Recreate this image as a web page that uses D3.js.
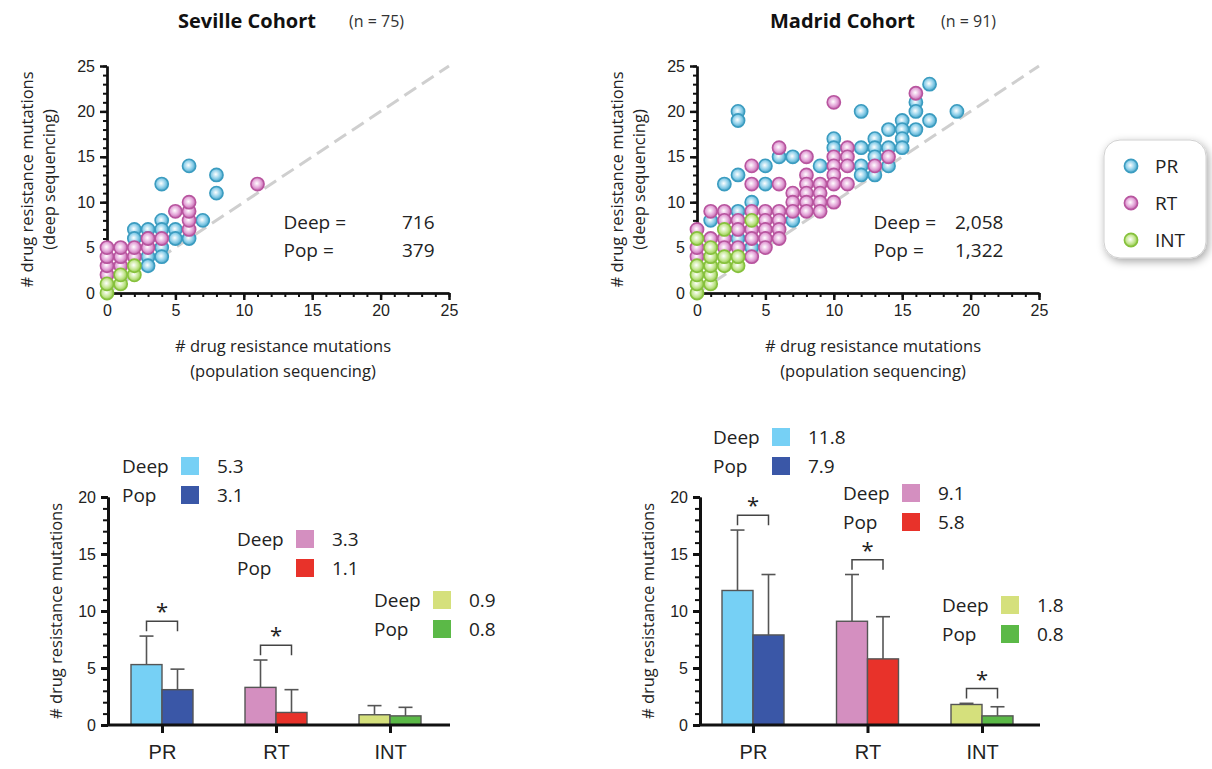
<!DOCTYPE html>
<html><head><meta charset="utf-8">
<script src="https://cdn.jsdelivr.net/npm/d3@7"></script>
<style>body{margin:0;background:#fff;} svg{display:block;font-family:"Open Sans",sans-serif;}</style>
</head><body><svg id="c" width="1212" height="769"></svg>
<script>
// ---------- DATA ----------
const cohorts = ["Seville Cohort", "Madrid Cohort"];
const cohortN = ["(n = 75)", "(n = 91)"];
const groups = ["PR", "RT", "INT"];
const scatterTicks = [0, 5, 10, 15, 20, 25];
const barTicks = [0, 5, 10, 15, 20];

// scatter points: [population, deep]
const sevPR = [[2,7],[2,6],[3,7],[3,6],[3,4],[3,3],[4,12],[4,8],[4,7],[4,5],[4,4],[5,7],[5,6],[6,14],[6,6],[7,8],[8,13],[8,11]];
const sevRT = [[0,2],[0,3],[0,4],[0,5],[1,3],[1,4],[1,5],[2,4],[2,5],[3,5],[3,6],[4,6],[5,9],[6,7],[6,8],[6,9],[6,10],[11,12]];
const sevINT = [[0,0],[0,1],[1,1],[1,2],[2,2],[2,3]];

const madPR = [[1,8],[2,12],[3,20],[3,19],[3,13],[3,9],[3,6],[4,10],[4,5],[5,14],[5,12],[6,15],[7,15],[7,8],[9,14],[10,17],[10,16],[12,20],[12,16],[12,14],[12,13],[13,17],[13,16],[13,15],[13,13],[14,18],[14,16],[14,14],[15,19],[15,18],[15,17],[15,16],[16,21],[16,20],[16,18],[17,23],[17,19],[19,20]];
const madRT = [[0,4],[0,5],[0,7],[1,9],[1,6],[2,9],[2,8],[2,6],[2,5],[3,8],[3,7],[3,5],[4,14],[4,12],[4,9],[4,7],[4,6],[4,4],[5,9],[5,8],[5,7],[5,6],[5,5],[6,16],[6,12],[6,9],[6,8],[6,7],[6,6],[7,11],[7,10],[7,9],[8,15],[8,13],[8,12],[8,11],[8,10],[8,9],[9,12],[9,11],[9,10],[9,9],[10,21],[10,15],[10,14],[10,13],[10,12],[10,10],[11,16],[11,15],[11,14],[11,12],[13,14],[14,15],[16,22]];
const madINT = [[0,0],[0,1],[0,2],[0,3],[0,6],[1,1],[1,2],[1,3],[1,4],[1,5],[2,3],[2,4],[2,7],[3,3],[3,4],[4,8]];

const totalLabels = ["Deep =", "Pop ="];
const sevTotals = ["716", "379"];
const madTotals = ["2,058", "1,322"];

// bar means and SDs (Deep, Pop per group)
const sevDeep = [5.3, 3.3, 0.9];
const sevPop  = [3.1, 1.1, 0.8];
const sevDeepSD = [2.5, 2.4, 0.8];
const sevPopSD  = [1.8, 2.0, 0.75];
const sevSig = [true, true, false];

const madDeep = [11.8, 9.1, 1.8];
const madPop  = [7.9, 5.8, 0.8];
const madDeepSD = [5.3, 4.1, 0.1];
const madPopSD  = [5.3, 3.7, 0.8];
const madSig = [true, true, true];

// ---------- STYLE ----------
const ptColors = {PR: ["#3b9cc0", "#8fd0ea"], RT: ["#b8559f", "#e4a6d9"], INT: ["#86c13c", "#c6e794"]};
const deepColors = ["#76d0f5", "#d48fc0", "#d5e07c"];
const popColors = ["#3a57a7", "#e8322a", "#5bb947"];

const svg = d3.select("#c");
const defs = svg.append("defs");
Object.entries(ptColors).forEach(([k, c]) => {
  const g = defs.append("radialGradient").attr("id", "g" + k).attr("cx", "45%").attr("cy", "45%").attr("r", "60%");
  g.append("stop").attr("offset", "0%").attr("stop-color", "#ffffff");
  g.append("stop").attr("offset", "55%").attr("stop-color", c[1]);
  g.append("stop").attr("offset", "100%").attr("stop-color", c[0]);
});
const f = defs.append("filter").attr("id", "shadow").attr("x", "-30%").attr("y", "-30%").attr("width", "160%").attr("height", "160%");
f.append("feDropShadow").attr("dx", 2).attr("dy", 3).attr("stdDeviation", 4).attr("flood-color", "#000").attr("flood-opacity", 0.35);

function styleAxis(g, w) {
  g.selectAll("path").attr("stroke", "#111").attr("stroke-width", w);
  g.selectAll("line").attr("stroke", "#111").attr("stroke-width", w);
  g.selectAll("text").attr("fill", "#222");
}

// ---------- SCATTER ----------
function scatter(x0, title, nTxt, titleX, nX, pr, rt, intg, totals, yTitleX, valX) {
  const x = d3.scaleLinear().domain([0, 25]).range([x0, x0 + 342]);
  const y = d3.scaleLinear().domain([0, 25]).range([293, 66]);

  svg.append("text").attr("x", titleX).attr("y", 28).attr("font-size", 20).attr("font-weight", "bold").attr("fill", "#111").text(title);
  svg.append("text").attr("x", nX).attr("y", 27).attr("font-size", 16).attr("fill", "#333").text(nTxt);

  svg.append("line").attr("x1", x(0)).attr("y1", y(0)).attr("x2", x(25)).attr("y2", y(25))
    .attr("stroke", "#cfcfcf").attr("stroke-width", 3).attr("stroke-dasharray", "14,7");

  const ax = svg.append("g").attr("transform", `translate(0,${y(0)})`)
    .call(d3.axisBottom(x).tickValues(scatterTicks).tickSize(7).tickPadding(5).tickSizeOuter(0));
  ax.selectAll("text").attr("font-size", 16);
  styleAxis(ax, 2.5);
  const axm = svg.append("g").attr("transform", `translate(0,${y(0)})`)
    .call(d3.axisBottom(x).tickValues(d3.range(0, 26)).tickSize(4).tickFormat("").tickSizeOuter(0));
  styleAxis(axm, 2);
  const ay = svg.append("g").attr("transform", `translate(${x(0)},0)`)
    .call(d3.axisLeft(y).tickValues(scatterTicks).tickSize(7).tickPadding(5).tickSizeOuter(0));
  ay.selectAll("text").attr("font-size", 16);
  styleAxis(ay, 2.5);
  const aym = svg.append("g").attr("transform", `translate(${x(0)},0)`)
    .call(d3.axisLeft(y).tickValues(d3.range(0, 26)).tickSize(4).tickFormat("").tickSizeOuter(0));
  styleAxis(aym, 2);

  const cx = (x(0) + x(25)) / 2;
  svg.append("text").attr("x", cx + 5).attr("y", 352).attr("text-anchor", "middle").attr("font-size", 16.5).attr("fill", "#222").text("# drug resistance mutations");
  svg.append("text").attr("x", cx + 5).attr("y", 377).attr("text-anchor", "middle").attr("font-size", 16.5).attr("fill", "#222").text("(population sequencing)");
  const cy = (y(0) + y(25)) / 2;
  svg.append("text").attr("transform", `translate(${yTitleX},${cy}) rotate(-90)`).attr("text-anchor", "middle").attr("font-size", 16.5).attr("fill", "#222").text("# drug resistance mutations");
  svg.append("text").attr("transform", `translate(${yTitleX + 22},${cy}) rotate(-90)`).attr("text-anchor", "middle").attr("font-size", 16.5).attr("fill", "#222").text("(deep sequencing)");

  [["PR", pr], ["RT", rt], ["INT", intg]].forEach(([k, pts]) => {
    svg.append("g").selectAll("circle").data(pts).join("circle")
      .attr("cx", d => x(d[0])).attr("cy", d => y(d[1])).attr("r", 6.6)
      .attr("fill", `url(#g${k})`).attr("stroke", ptColors[k][0]).attr("stroke-width", 1.6);
  });

  totalLabels.forEach((t, i) => {
    svg.append("text").attr("x", x(12.9)).attr("y", 229 + i * 28).attr("font-size", 19).attr("fill", "#222").text(t);
    svg.append("text").attr("x", valX).attr("y", 229 + i * 28).attr("font-size", 19).attr("fill", "#222").text(totals[i]);
  });
}

scatter(107, cohorts[0], cohortN[0], 178, 349, sevPR, sevRT, sevINT, sevTotals, 33, 402);
scatter(697, cohorts[1], cohortN[1], 770, 941, madPR, madRT, madINT, madTotals, 623, 955);

// scatter legend
const lg = svg.append("g");
lg.append("rect").attr("x", 1104).attr("y", 140).attr("width", 102).attr("height", 118).attr("rx", 16)
  .attr("fill", "#fff").attr("stroke", "#d0d0d0").attr("stroke-width", 1).attr("filter", "url(#shadow)");
groups.forEach((k, i) => {
  lg.append("circle").attr("cx", 1131).attr("cy", 166 + i * 37).attr("r", 6.6)
    .attr("fill", `url(#g${k})`).attr("stroke", ptColors[k][0]).attr("stroke-width", 1.6);
  lg.append("text").attr("x", 1155).attr("y", 173 + i * 37).attr("font-size", 19).attr("fill", "#222").text(k);
});

// ---------- BARS ----------
function bars(ax0, axEnd, centers, deep, pop, deepSD, popSD, sig, legendPos) {
  const y = d3.scaleLinear().domain([0, 20]).range([725, 497]);
  const x = d3.scalePoint().domain(groups).range([centers[0], centers[1]]);
  const bw = 31;

  const ay = svg.append("g").attr("transform", `translate(${ax0},0)`)
    .call(d3.axisLeft(y).tickValues(barTicks).tickSize(7).tickPadding(5).tickSizeOuter(0));
  ay.selectAll("text").attr("font-size", 16);
  styleAxis(ay, 3);
  const aym = svg.append("g").attr("transform", `translate(${ax0},0)`)
    .call(d3.axisLeft(y).tickValues(d3.range(0, 21)).tickSize(5).tickFormat("").tickSizeOuter(0));
  styleAxis(aym, 2);
  svg.append("text").attr("transform", `translate(${ax0 - 46},${(y(0) + y(20)) / 2}) rotate(-90)`)
    .attr("text-anchor", "middle").attr("font-size", 16.5).attr("fill", "#222").text("# drug resistance mutations");

  groups.forEach((gname, i) => {
    const c = x(gname);
    const items = [[c - bw, deep[i], deepSD[i], deepColors[i]], [c, pop[i], popSD[i], popColors[i]]];
    items.forEach(([bx, v, sd, col]) => {
      const mid = bx + bw / 2;
      svg.append("line").attr("x1", mid).attr("x2", mid).attr("y1", y(v)).attr("y2", y(v + sd)).attr("stroke", "#555").attr("stroke-width", 1.6);
      svg.append("line").attr("x1", mid - 7).attr("x2", mid + 7).attr("y1", y(v + sd)).attr("y2", y(v + sd)).attr("stroke", "#555").attr("stroke-width", 1.6);
      svg.append("rect").attr("x", bx).attr("y", y(v)).attr("width", bw).attr("height", y(0) - y(v))
        .attr("fill", col).attr("stroke", "#555").attr("stroke-width", 1.4);
    });
    if (sig[i]) {
      const top = Math.max(deep[i] + deepSD[i], pop[i] + popSD[i]) + 1.3;
      const xl = c - bw / 2, xr = c + bw / 2;
      svg.append("path").attr("d", `M${xl},${y(top) + 10}V${y(top)}H${xr}V${y(top) + 10}`)
        .attr("fill", "none").attr("stroke", "#444").attr("stroke-width", 1.5);
      svg.append("text").attr("x", c).attr("y", y(top) - 2).attr("text-anchor", "middle").attr("font-size", 22).attr("fill", "#222").text("*");
    }
    const [lx, ly] = legendPos[i];
    [["Deep", deepColors[i], deep[i]], ["Pop", popColors[i], pop[i]]].forEach(([lab, col, v], j) => {
      const yy = ly + j * 29;
      svg.append("text").attr("x", lx).attr("y", yy + 7).attr("font-size", 19).attr("fill", "#222").text(lab);
      svg.append("rect").attr("x", lx + 59).attr("y", yy - 9).attr("width", 18).attr("height", 18).attr("fill", col);
      svg.append("text").attr("x", lx + 95).attr("y", yy + 7).attr("font-size", 19).attr("fill", "#222").text(d3.format(".1f")(v));
    });
  });

  const axb = svg.append("g").attr("transform", `translate(0,${y(0)})`);
  axb.append("line").attr("x1", ax0).attr("x2", axEnd).attr("stroke", "#111").attr("stroke-width", 3);
  const xa = axb.append("g").call(d3.axisBottom(x).tickSize(8).tickPadding(12).tickSizeOuter(0));
  xa.select(".domain").remove();
  xa.selectAll("text").attr("font-size", 20);
  styleAxis(xa, 3);
}

bars(108, 450, [162, 390], sevDeep, sevPop, sevDeepSD, sevPopSD, sevSig, [[122, 466], [237, 539], [374, 600]]);
bars(700, 1040, [753, 982], madDeep, madPop, madDeepSD, madPopSD, madSig, [[713, 437], [843, 493], [942, 605]]);
</script></body></html>
